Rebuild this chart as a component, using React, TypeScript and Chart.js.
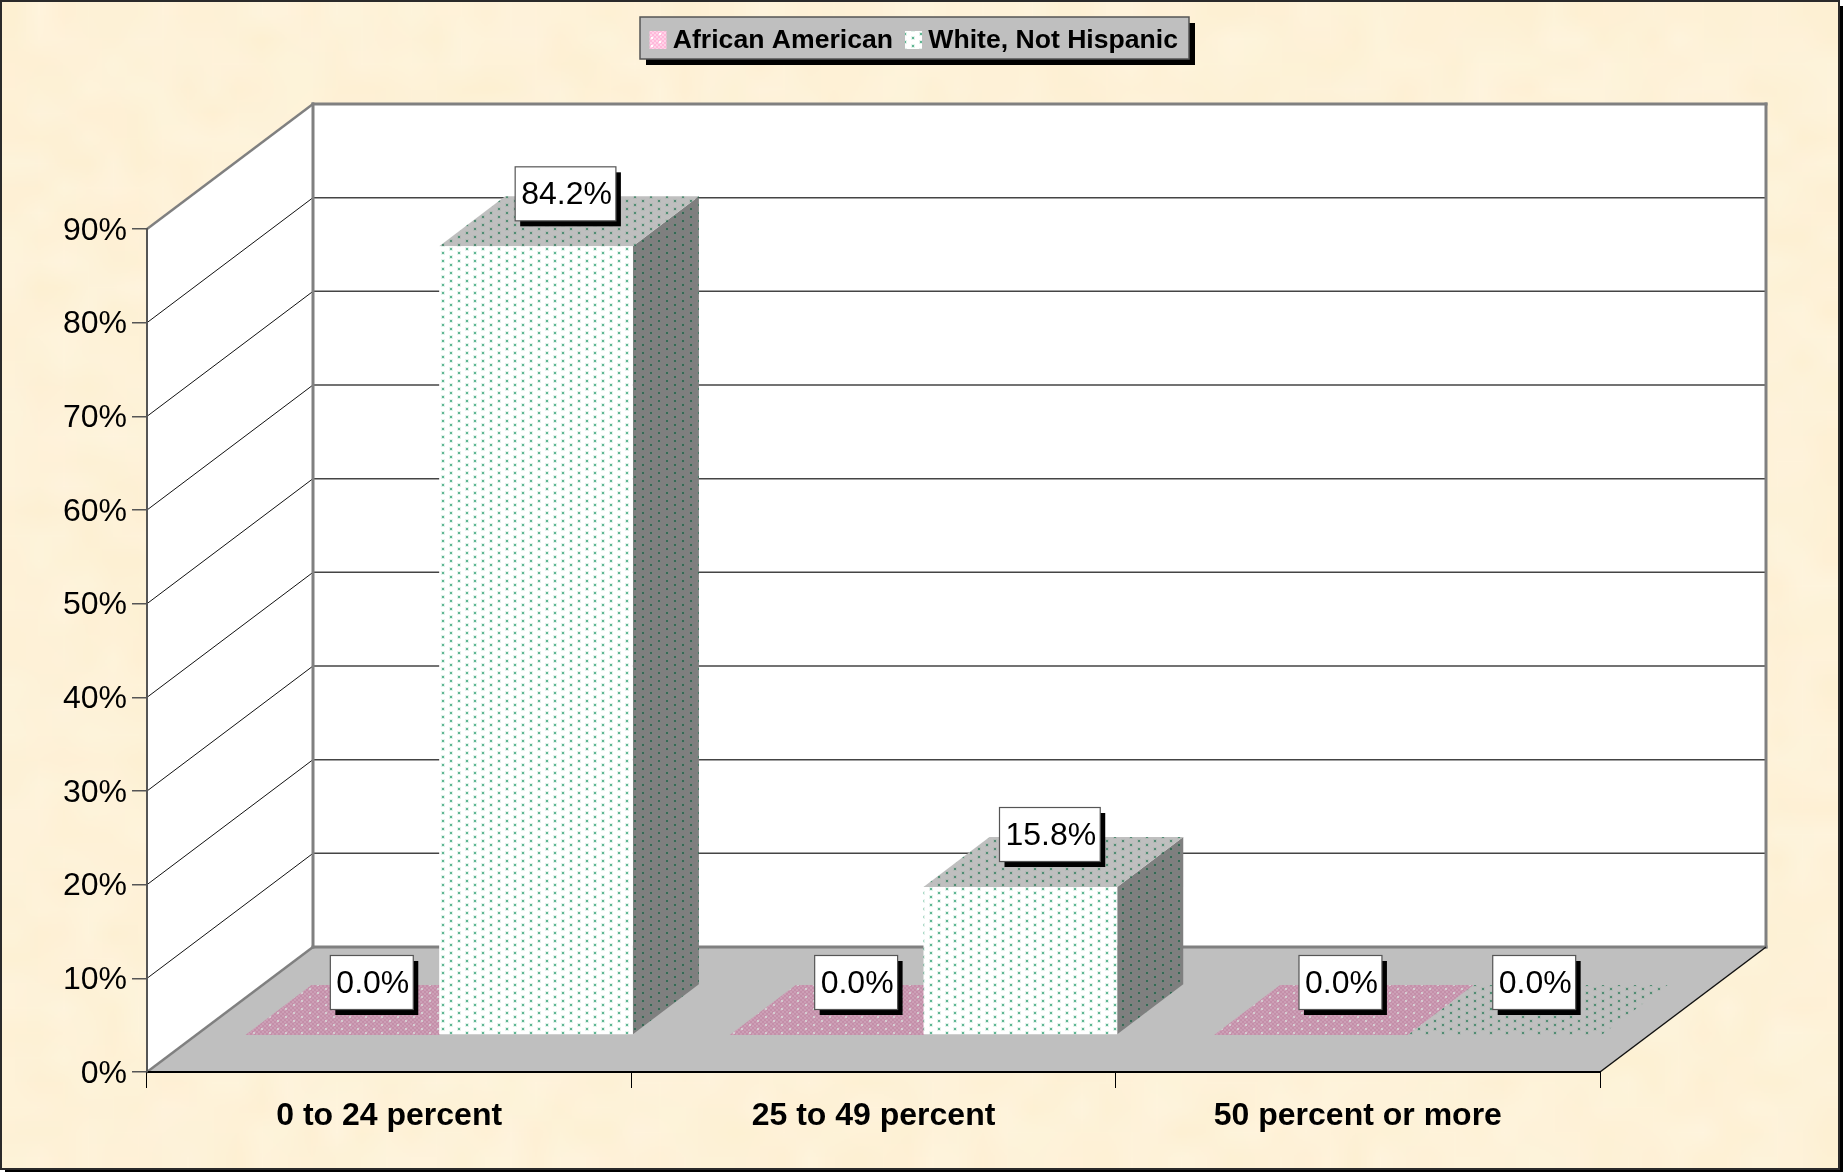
import React, { useEffect, useRef } from "react";
import { Chart, registerables } from "chart.js";

Chart.register(...registerables);

const categories = ["0 to 24 percent", "25 to 49 percent", "50 percent or more"];
const africanAmerican = [0, 0, 0];
const whiteNotHispanic = [84.2, 15.8, 0];
const seriesNames = ["African American", "White, Not Hispanic"];

const W = 1843;
const H = 1172;
const FONT = '"Liberation Sans", Arial, sans-serif';
const WALL = { dx: 166, dy: 125 };
const INSET = { dx: 50, dy: 37 };
const DEPTH = { dx: 66, dy: 50 };
const LEGEND = { x: 640, y: 17, w: 549, h: 42 };

function tile(w: number, h: number, paint: (c: CanvasRenderingContext2D) => void) {
  const cv = document.createElement("canvas");
  cv.width = w;
  cv.height = h;
  paint(cv.getContext("2d")!);
  return cv.getContext("2d")!.createPattern(cv, "repeat")!;
}

function dotted(bg: string, halo: string, core: string) {
  return tile(16, 8, (c) => {
    c.fillStyle = bg;
    c.fillRect(0, 0, 16, 8);
    for (const [x, y] of [[8, 1], [0, 5], [16, 5]]) {
      c.fillStyle = halo;
      c.fillRect(x - 1, y - 1, 4, 4);
      c.fillStyle = core;
      c.fillRect(x, y, 2, 2);
    }
  });
}

function checker(a: string, b: string, dot: string) {
  return tile(16, 8, (c) => {
    for (let y = 0; y < 8; y += 2)
      for (let x = 0; x < 16; x += 2) {
        c.fillStyle = ((x + y) / 2) % 2 ? a : b;
        c.fillRect(x, y, 2, 2);
      }
    c.fillStyle = dot;
    for (const [x, y] of [[3, 1], [11, 5]]) c.fillRect(x, y, 2, 2);
  });
}

function parchment() {
  const cv = document.createElement("canvas");
  cv.width = 74;
  cv.height = 47;
  const c = cv.getContext("2d")!;
  const noise = (x: number, y: number) => {
    const s = Math.sin(x * 12.9898 + y * 78.233) * 43758.5453;
    return s - Math.floor(s);
  };
  for (let y = 0; y < 47; y++)
    for (let x = 0; x < 74; x++) {
      const n = noise(x, y);
      const m = noise(x + 31, y + 17);
      c.fillStyle = `rgb(${253 + m * 2},${240 + n * 4},${210 + n * 9 + m * 3})`;
      c.fillRect(x, y, 1, 1);
    }
  return cv;
}

function poly(c: CanvasRenderingContext2D, pts: number[][], fill?: any, stroke?: string, lw = 1) {
  c.beginPath();
  pts.forEach(([x, y], i) => (i ? c.lineTo(x, y) : c.moveTo(x, y)));
  c.closePath();
  if (fill) {
    c.fillStyle = fill;
    c.fill();
  }
  if (stroke) {
    c.strokeStyle = stroke;
    c.lineWidth = lw;
    c.stroke();
  }
}

function line(c: CanvasRenderingContext2D, x1: number, y1: number, x2: number, y2: number, color: string, lw: number) {
  c.beginPath();
  c.moveTo(x1, y1);
  c.lineTo(x2, y2);
  c.strokeStyle = color;
  c.lineWidth = lw;
  c.stroke();
}

export default function App() {
  const ref = useRef<HTMLCanvasElement>(null);

  useEffect(() => {
    document.body.style.margin = "0";
    const paper = parchment();
    const pinkFront = checker("#ffb8da", "#ffd2e8", "#ffffff");
    const pinkTop = checker("#c48fa9", "#cc9fb6", "#d4cdd1");
    const whiteFront = dotted("#ffffff", "#e4f3ec", "#60b794");
    const whiteSide = dotted("#7f7f7f", "#7a827e", "#356a55");
    const whiteTop = dotted("#bfbfbf", "#b3bab6", "#528d74");
    const tops = [pinkTop, whiteTop];
    const sides = [pinkFront, whiteSide];
    const swatches = [pinkFront, whiteFront];

    const scene = {
      id: "scene",
      start(chart: any) {
        const legend = chart.legend;
        if (legend) {
          const fit = legend.fit;
          legend.fit = function () {
            fit.call(this);
            this.height = 229;
          };
        }
      },
      afterLayout(chart: any) {
        const legend = chart.legend;
        legend.left = 649.5 - legend.options.labels.padding;
        legend.right = legend.left + 800;
        legend.top = 15;
      },
      beforeDraw(chart: any) {
        const c: CanvasRenderingContext2D = chart.ctx;
        const y = chart.scales.y;
        const L = chart.chartArea.left;
        const R = chart.chartArea.right;
        const T = y.getPixelForValue(90);
        const B = y.getPixelForValue(0);
        c.save();
        c.fillStyle = "#ffffff";
        c.fillRect(0, 0, W, H);
        c.fillStyle = "#000000";
        c.fillRect(5, 6, W - 5, H - 6);
        c.imageSmoothingEnabled = true;
        c.drawImage(paper, 1, 1, 1838, 1168);
        c.strokeStyle = "#2a2a2a";
        c.lineWidth = 2;
        c.strokeRect(1, 1, 1838, 1168);

        const bx = L + WALL.dx;
        const bR = R + WALL.dx;
        const tb = T - WALL.dy;
        const fb = B - WALL.dy;
        poly(c, [[L, T], [bx, tb], [bx, fb], [L, B]], "#ffffff");
        poly(c, [[bx, tb], [bR, tb], [bR, fb], [bx, fb]], "#ffffff");
        poly(c, [[L, B], [bx, fb], [bR, fb], [R, B]], "#bfbfbf");

        y.ticks.forEach((t: any) => {
          if (t.value <= 0 || t.value >= 90) return;
          const py = y.getPixelForValue(t.value);
          line(c, L, py, bx, py - WALL.dy, "#111111", 1);
          line(c, bx, py - WALL.dy, bR, py - WALL.dy, "#444444", 1.5);
        });
        c.lineCap = "square";
        line(c, L, T, bx, tb, "#808080", 2.5);
        line(c, bx, tb, bR, tb, "#808080", 3);
        line(c, bR, tb, bR, fb, "#808080", 3);
        line(c, bx, tb, bx, fb, "#808080", 3);
        line(c, bx, fb, bR, fb, "#808080", 3);
        line(c, L, B, bx, fb, "#808080", 2.5);
        c.lineCap = "butt";
        line(c, R, B, bR, fb, "#111111", 1.5);

        const sx = LEGEND.x;
        c.fillStyle = "#000000";
        c.fillRect(sx + 6, LEGEND.y + 6, LEGEND.w, LEGEND.h);
        c.fillStyle = "#bfbfbf";
        c.fillRect(sx, LEGEND.y, LEGEND.w, LEGEND.h);
        c.strokeStyle = "#555555";
        c.lineWidth = 1.5;
        c.strokeRect(sx, LEGEND.y, LEGEND.w, LEGEND.h);
        chart.legend.legendHitBoxes.forEach((h: any, i: number) => {
          c.fillStyle = swatches[i];
          c.fillRect(h.left, 31, 17, 18);
        });
        c.restore();
      },
      beforeDatasetsDraw(chart: any) {
        const c: CanvasRenderingContext2D = chart.ctx;
        c.save();
        c.translate(INSET.dx, -INSET.dy);
        chart.data.datasets.forEach((_: any, i: number) => {
          chart.getDatasetMeta(i).data.forEach((bar: any) => {
            const { x, y, base, width } = bar.getProps(["x", "y", "base", "width"], true);
            const l = x - width / 2;
            const r = x + width / 2;
            if (base - y > 0.5)
              poly(c, [[r, y], [r + DEPTH.dx, y - DEPTH.dy], [r + DEPTH.dx, base - DEPTH.dy], [r, base]], sides[i]);
            poly(c, [[l, y], [r, y], [r + DEPTH.dx, y - DEPTH.dy], [l + DEPTH.dx, y - DEPTH.dy]], tops[i]);
          });
        });
      },
      afterDatasetsDraw(chart: any) {
        const c: CanvasRenderingContext2D = chart.ctx;
        c.restore();
        c.save();
        c.font = `32px ${FONT}`;
        c.textAlign = "center";
        c.textBaseline = "middle";
        chart.data.datasets.forEach((ds: any, i: number) => {
          chart.getDatasetMeta(i).data.forEach((bar: any, j: number) => {
            const { x, y } = bar.getProps(["x", "y"], true);
            const text = `${ds.data[j].toFixed(1)}%`;
            const w = c.measureText(text).width + 10;
            const h = 54;
            const cx = x + INSET.dx + 29.5;
            const cy = y - INSET.dy - 52.5;
            c.fillStyle = "#000000";
            c.fillRect(cx - w / 2 + 5, cy - h / 2 + 5.5, w, h);
            c.fillStyle = "#ffffff";
            c.fillRect(cx - w / 2, cy - h / 2, w, h);
            c.strokeStyle = "#555555";
            c.lineWidth = 1.2;
            c.strokeRect(cx - w / 2, cy - h / 2, w, h);
            c.fillStyle = "#000000";
            c.fillText(text, cx + 1, cy + 1.5);
          });
        });
        c.restore();
      },
    };

    const chart = new Chart(ref.current!, {
      type: "bar",
      data: {
        labels: categories,
        datasets: [
          { label: seriesNames[0], data: africanAmerican, backgroundColor: pinkFront, borderWidth: 0, clip: false } as any,
          { label: seriesNames[1], data: whiteNotHispanic, backgroundColor: whiteFront, borderWidth: 0, clip: false } as any,
        ],
      },
      options: {
        responsive: false,
        animation: false,
        devicePixelRatio: 1,
        layout: { padding: { top: 0, right: W - 1600, bottom: 0, left: 0 } },
        datasets: { bar: { categoryPercentage: 0.8, barPercentage: 1 } },
        plugins: {
          tooltip: { enabled: false },
          legend: {
            position: "top",
            align: "start",
            labels: {
              boxWidth: 10,
              boxHeight: 18,
              padding: 12,
              color: "#000000",
              font: { family: FONT, size: 26.6, weight: "bold" },
              generateLabels: (ch: any) =>
                Chart.defaults.plugins.legend.labels.generateLabels(ch).map((it: any) => ({
                  ...it,
                  fillStyle: "transparent",
                  strokeStyle: "transparent",
                  lineWidth: 0,
                })),
            },
          },
        },
        scales: {
          x: {
            afterFit: (s: any) => {
              s.height = H - 1072;
            },
            border: { color: "#000000", width: 2 },
            grid: { drawOnChartArea: false, drawTicks: true, tickLength: 16, color: "#000000", lineWidth: 1 },
            ticks: {
              color: "#000000",
              padding: 9,
              maxRotation: 0,
              autoSkip: false,
              font: { family: FONT, size: 32, weight: "bold" },
            },
          },
          y: {
            min: 0,
            max: 90,
            afterFit: (s: any) => {
              s.width = 147;
            },
            border: { color: "#555555", width: 2 },
            grid: { drawOnChartArea: false, drawTicks: true, tickLength: 15, color: "#555555", lineWidth: 1.5 },
            ticks: {
              stepSize: 10,
              color: "#000000",
              padding: 5,
              labelOffset: 2,
              font: { family: FONT, size: 32 },
              callback: (v: any) => `${v}%`,
            },
          },
        },
      } as any,
      plugins: [scene as any],
    });
    return () => chart.destroy();
  }, []);

  return <canvas ref={ref} width={W} height={H} style={{ display: "block" }} />;
}
